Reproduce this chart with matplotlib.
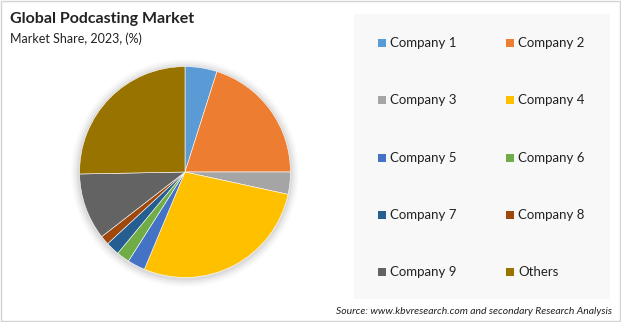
import matplotlib.pyplot as plt
from matplotlib.patches import Rectangle, Circle

companies = ["Company 1", "Company 2", "Company 3", "Company 4", "Company 5",
             "Company 6", "Company 7", "Company 8", "Company 9", "Others"]
shares = [4.9, 20.1, 3.4, 27.9, 2.7, 2.0, 2.1, 1.4, 10.2, 25.3]
colors = ["#5B9BD5", "#ED7D31", "#A5A5A5", "#FFC000", "#4472C4",
          "#70AD47", "#255E91", "#9E480E", "#636363", "#997300"]

plt.rcParams['font.family'] = ['Lato', 'DejaVu Sans']

W, H = 621, 322
fig = plt.figure(figsize=(6.21, 3.22), dpi=100)
fig.patch.set_facecolor("white")

# outer border
fig.patches.append(Rectangle((0.001, 0.002), 0.997, 0.995, transform=fig.transFigure,
                             fill=False, edgecolor="#d4d4d4", linewidth=1))
# legend panel
fig.patches.append(Rectangle((354 / W, 1 - 299 / H), 256 / W, 285 / H,
                             transform=fig.transFigure, facecolor="#f8f8f8",
                             edgecolor="none", zorder=0))

fig.text(10 / W, 1 - 19 / H, "Global Podcasting Market", fontsize=11.5,
         fontweight="bold", color="#222222", va="center")
fig.text(10 / W, 1 - 39 / H, "Market Share, 2023, (%)", fontsize=9,
         color="#222222", va="center")

ax = fig.add_axes([69 / W, 34 / H, 232 / W, 232 / H])
# soft shadow around the pie
for i, a in enumerate([0.05, 0.04, 0.03, 0.02]):
    ax.add_patch(Circle((0.0, -0.01), 1.0 + 0.02 * (i + 1), color="#000000",
                        alpha=a, linewidth=0, zorder=0))
ax.pie(shares, colors=colors, startangle=90, counterclock=False,
       wedgeprops=dict(linewidth=0.4, edgecolor="white"))
ax.set_xlim(-1.1, 1.1)
ax.set_ylim(-1.1, 1.1)
ax.set_position([69 / W, 34 / H, 232 / W, 232 / H])
ax.set_aspect("equal")
ax.axis("off")

# legend, 2 columns filled row-wise
col_x = [378, 506]
row_y = [43, 100, 158, 215, 272]
sq = 8
for i, name in enumerate(companies):
    x = col_x[i % 2]
    y = row_y[i // 2]
    fig.patches.append(Rectangle((x / W, 1 - (y + sq / 2) / H), sq / W, sq / H,
                                 transform=fig.transFigure, facecolor=colors[i],
                                 edgecolor="none"))
    fig.text((x + sq + 4) / W, 1 - y / H, name, fontsize=9.5, color="#222222",
             va="center", ha="left")

fig.text(612 / W, 1 - 311 / H,
         "Source: www.kbvresearch.com and secondary Research Analysis",
         fontsize=7.5, style="italic", color="#222222", ha="right", va="center")

fig.savefig("out.png", dpi=100)
